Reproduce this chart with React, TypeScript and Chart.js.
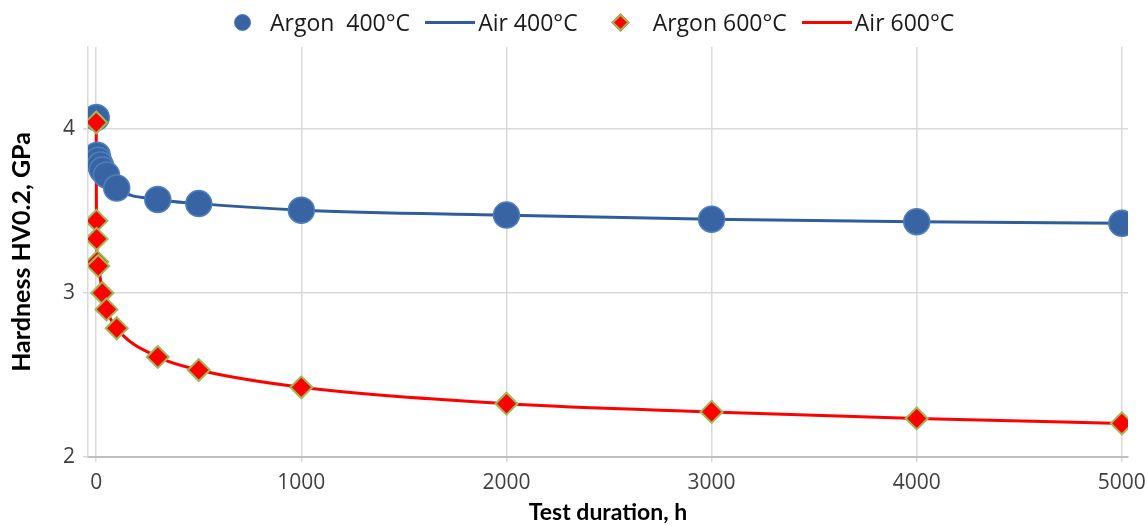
import React, { useEffect, useRef } from "react";
import { Chart, registerables } from "chart.js";

Chart.register(...registerables);

// Argon 400°C (markers) and Air 400°C (line)
const argon400X = [0, 5, 10, 20, 30, 50, 100, 300, 500, 1000, 2000, 3000, 4000, 5000];
const argon400Y = [4.07, 3.84, 3.81, 3.78, 3.75, 3.72, 3.64, 3.57, 3.545, 3.505, 3.475, 3.45, 3.435, 3.425];
const air400X = [5, 10, 20, 30, 50, 100, 300, 500, 1000, 2000, 3000, 4000, 5000];
const air400Y = [3.84, 3.81, 3.78, 3.75, 3.72, 3.64, 3.57, 3.545, 3.505, 3.475, 3.45, 3.435, 3.425];

// Argon 600°C (markers) and Air 600°C (line)
const argon600X = [0, 1, 2, 5, 10, 30, 50, 100, 300, 500, 1000, 2000, 3000, 4000, 5000];
const argon600Y = [4.04, 3.44, 3.33, 3.19, 3.165, 3.0, 2.9, 2.785, 2.61, 2.53, 2.425, 2.325, 2.275, 2.235, 2.205];
const air600X = argon600X;
const air600Y = argon600Y;

const xTicks = [0, 1000, 2000, 3000, 4000, 5000];
const yTicks = [2, 3, 4];

const toPts = (xs: number[], ys: number[]) => xs.map((x, i) => ({ x, y: ys[i] }));

const FONT = "'Open Sans', 'Noto Sans', sans-serif";
const TITLE_FONT = "Lato, 'Open Sans', sans-serif";

export default function App() {
  const ref = useRef<HTMLCanvasElement | null>(null);

  useEffect(() => {
    if (!ref.current) return;
    const chart = new Chart(ref.current, {
      type: "scatter",
      data: {
        datasets: [
          {
            label: "Argon 600°C",
            data: toPts(argon600X, argon600Y),
            showLine: false,
            pointStyle: "rectRot",
            pointRadius: 11,
            pointHoverRadius: 11,
            backgroundColor: "#ff0000",
            borderColor: "#9bbb59",
            borderWidth: 2,
            order: 0,
          },
          {
            label: "Argon  400°C",
            data: toPts(argon400X, argon400Y),
            showLine: false,
            pointStyle: "circle",
            pointRadius: 13,
            pointHoverRadius: 13,
            backgroundColor: "#3864a3",
            borderColor: "#4f7fbf",
            borderWidth: 1.5,
            order: 1,
          },
          {
            label: "Air 600°C",
            data: toPts(air600X, air600Y),
            showLine: true,
            pointRadius: 0,
            borderColor: "#ff0000",
            backgroundColor: "#ff0000",
            borderWidth: 3,
            cubicInterpolationMode: "monotone",
            order: 2,
          },
          {
            label: "Air 400°C",
            data: toPts(air400X, air400Y),
            showLine: true,
            pointRadius: 0,
            borderColor: "#2f5d9c",
            backgroundColor: "#2f5d9c",
            borderWidth: 3,
            cubicInterpolationMode: "monotone",
            order: 3,
          },
        ],
      },
      options: {
        responsive: true,
        maintainAspectRatio: false,
        animation: false,
        layout: { padding: { top: 47, right: 19, left: 0, bottom: 0 } },
        plugins: {
          legend: { display: false },
          tooltip: { enabled: false },
        },
        scales: {
          x: {
            type: "linear",
            min: -40,
            max: 5030,
            afterBuildTicks: (s: any) => {
              s.ticks = xTicks.map((v) => ({ value: v }));
            },
            afterFit: (s: any) => {
              s.height = 69;
              s.paddingRight = 0;
              s.paddingLeft = 0;
            },
            grid: {
              color: "#d9d9d9",
              lineWidth: 1.5,
              drawTicks: true,
              tickLength: 5,
            },
            border: { color: "#bfbfbf", width: 2 },
            ticks: {
              color: "#404040",
              font: { family: FONT, size: 21 },
              padding: 8,
              maxRotation: 0,
              callback: (v: any) => String(v),
            },
            title: {
              display: true,
              text: "Test duration, h",
              color: "#000",
              font: { family: TITLE_FONT, size: 23, weight: "bold" },
              padding: { top: 0, bottom: 0 },
            },
          },
          y: {
            type: "linear",
            min: 2,
            max: 4.5,
            afterBuildTicks: (s: any) => {
              s.ticks = yTicks.map((v) => ({ value: v }));
            },
            afterFit: (s: any) => {
              s.width = 88;
            },
            grid: {
              color: "#d9d9d9",
              lineWidth: 1.5,
              drawTicks: true,
              tickLength: 5,
            },
            border: { color: "#d9d9d9", width: 1.5 },
            ticks: {
              color: "#404040",
              font: { family: FONT, size: 21 },
              padding: 8,
              callback: (v: any) => String(v),
            },
            title: {
              display: true,
              text: "Hardness HV0.2, GPa",
              color: "#000",
              font: { family: TITLE_FONT, size: 25, weight: "bold" },
              padding: { top: 7, bottom: 0 },
            },
          },
        },
      },
    } as any);
    return () => chart.destroy();
  }, []);

  const text: React.CSSProperties = {
    fontFamily: FONT,
    fontSize: 23,
    color: "#1a1a1a",
    whiteSpace: "pre",
    lineHeight: "1",
  };

  return (
    <div style={{ position: "absolute", left: 0, top: 0, width: 1147, height: 526, background: "#fff" }}>
      <canvas ref={ref} />
      <div
        style={{
          position: "absolute",
          left: 234,
          top: 0,
          height: 44,
          display: "flex",
          alignItems: "center",
        }}
      >
        <span
          style={{
            display: "inline-block",
            width: 15,
            height: 15,
            borderRadius: "50%",
            background: "#3864a3",
            border: "1px solid #4f7fbf",
            marginRight: 19,
          }}
        />
        <span style={{ ...text, marginRight: 15 }}>Argon  400°C</span>
        <span style={{ display: "inline-block", width: 50, height: 3, background: "#2f5d9c", marginRight: 3 }} />
        <span style={{ ...text, marginRight: 36 }}>Air 400°C</span>
        <span
          style={{
            display: "inline-block",
            width: 9,
            height: 9,
            background: "#ff0000",
            border: "2px solid #9bbb59",
            transform: "rotate(45deg)",
            marginRight: 26,
          }}
        />
        <span style={{ ...text, marginRight: 15 }}>Argon 600°C</span>
        <span style={{ display: "inline-block", width: 50, height: 3, background: "#ff0000", marginRight: 3 }} />
        <span style={{ ...text }}>Air 600°C</span>
      </div>
    </div>
  );
}
